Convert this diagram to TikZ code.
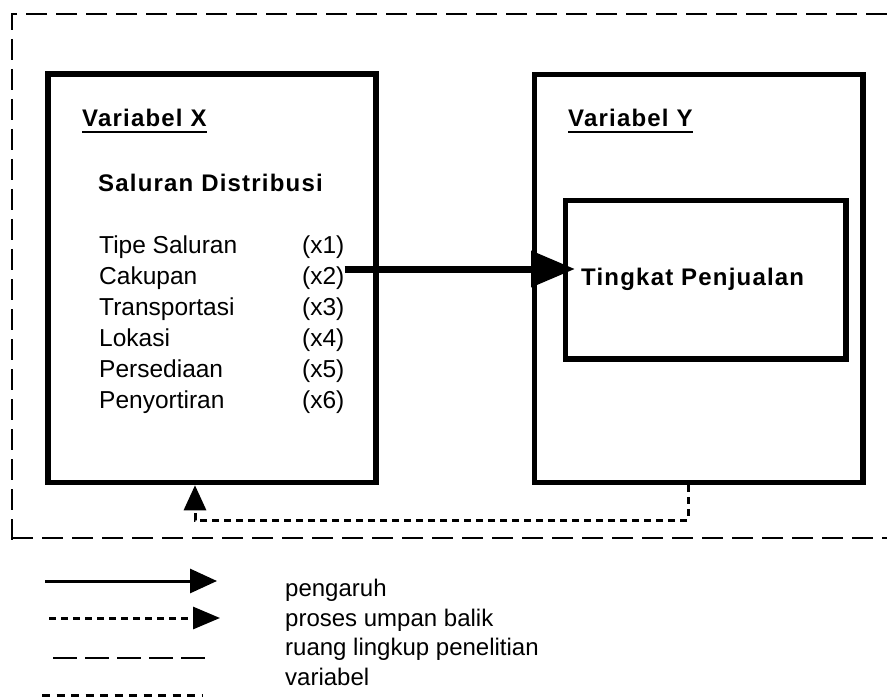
\documentclass[tikz,border=0pt]{standalone}
\usepackage{fontspec}
\setmainfont{Liberation Sans}
\newfontfamily\labfont[LetterSpace=5]{Liberation Sans}
\usetikzlibrary{arrows.meta,positioning}

\tikzset{
	varbox/.style = {draw, line width = 5.5pt, inner sep = 0pt},
	title/.style = {font = \labfont\bfseries\fontsize{24}{28}\selectfont, inner sep = 0pt, anchor = base west},
	item/.style = {font = \fontsize{24.5}{30}\selectfont, inner sep = 0pt, anchor = base west},
	legtext/.style = {font = \fontsize{24}{30}\selectfont, inner sep = 0pt, anchor = base west},
	uline/.style = {line width = 2.5pt},
	scopeline/.style = {line width = 2pt, dash pattern = on 21pt off 9pt},
	mainarrow/.style = {line width = 7pt, -{Triangle[length = 44pt, width = 35pt]}},
	fbline/.style = {line width = 3pt, dash pattern = on 7pt off 5pt, -{Triangle[length = 25pt, width = 22pt]}}
}

\begin{document}
\begin{tikzpicture}[x = 1pt, y = -1pt]
	\useasboundingbox (0,0) rectangle (887,698);
	% ruang lingkup penelitian
	\draw[scopeline] (887,14) -- (12,14) -- (12,547);
	\draw[scopeline] (12,538) -- (887,538);
	% variabel
	\node[varbox, minimum width = 328pt, minimum height = 408.5pt] (boxx) at (212,278.25) {};
	\node[varbox, minimum width = 328.5pt, minimum height = 408pt] (boxy) at (698.75,278.5) {};
	\node[varbox, minimum width = 280.5pt, minimum height = 158.5pt] (jual) at (705.75,279.75) {};
	\node[title] (varx) at (82,127) {Variabel X};
	\draw[uline] ([yshift = -5pt]varx.base west) -- ([yshift = -5pt]varx.base east);
	\node[title] (saluran) at (98,192) {Saluran Distribusi};
	\foreach \name/\code [count = \i] in {Tipe Saluran/x1, Cakupan/x2, Transportasi/x3, Lokasi/x4, Persediaan/x5, Penyortiran/x6} {
		\node[item] (item\i) at (99,222+31*\i) {\name};
		\node[item] (code\i) at (302,222+31*\i) {(\code)};
	}
	\node[title] (vary) at (568,127) {Variabel Y};
	\draw[uline] ([yshift = -5pt]vary.base west) -- ([yshift = -5pt]vary.base east);
	\node[title] (tingkat) at (581,285) {Tingkat Penjualan};
	% pengaruh dan umpan balik
	\coordinate (tip) at (575,269);
	\draw[mainarrow] (code2.east |- tip) -- (tip);
	\draw[fbline] ([xshift = -10.75pt]boxy.south) -- ++(0,35) -| ([xshift = -17pt]boxx.south);
	% keterangan
	\foreach \txt [count = \i] in {pengaruh, proses umpan balik, ruang lingkup penelitian, variabel}
		\node[legtext] (leg\i) at (285,567+29.5*\i) {\txt};
	\coordinate (s1) at (45,581);
	\coordinate (s2) at (49,618);
	\coordinate (s3) at (53,658);
	\coordinate (s4) at (42,695);
	\draw[line width = 3pt, -{Triangle[length = 27pt, width = 24pt]}] (s1) -- ++(172,0);
	\draw[line width = 3pt, dash pattern = on 7pt off 5pt, -{Triangle[length = 27pt, width = 22pt]}] (s2) -- ++(171,0);
	\draw[line width = 2pt, dash pattern = on 24pt off 8pt] (s3) -- ++(152,0);
	\draw[line width = 3pt, dash pattern = on 8pt off 6.5pt] (s4) -- ++(161,0);
\end{tikzpicture}
\end{document}
